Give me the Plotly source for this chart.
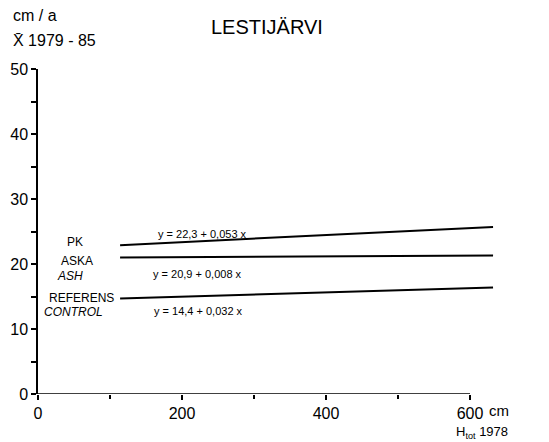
import plotly.graph_objects as go

# Data (x: H_tot 1978 in cm, y: cm/a mean 1979-85)
x_ends = [114, 632]
pk = [22.9, 25.7]
aska = [21.0, 21.3]
referens = [14.7, 16.4]

x_ticks = [0, 200, 400, 600]
x_tick_labels = ["0", "200", "400", "600"]
x_minor = [100, 300, 500]
y_ticks = [0, 10, 20, 30, 40, 50]
y_minor = [5, 15, 25, 35, 45]

W, H = 549, 442
L, R, T, B = 38, 50, 69, 48
PW, PH = W - L - R, H - T - B
XMAX = PW / 0.72
FONT = "Liberation Sans, Arial, Helvetica, sans-serif"

def px2p(px, py):
    return (px - L) / PW, (H - B - py) / PH

fig = go.Figure()
for ys in (pk, aska, referens):
    fig.add_trace(go.Scatter(x=x_ends, y=ys, mode="lines",
                             line=dict(color="black", width=2),
                             showlegend=False, hoverinfo="skip"))

# x-axis line only up to 600
fig.add_shape(type="line", x0=0, x1=600, y0=0, y1=0, xref="x", yref="y",
              line=dict(color="black", width=1.5), layer="above")

def ann(text, px, py, size, italic=False, xanchor="center"):
    x, y = px2p(px, py)
    if italic:
        text = "<i>" + text + "</i>"
    fig.add_annotation(x=x, y=y, xref="paper", yref="paper", text=text, showarrow=False,
                       xanchor=xanchor, yanchor="middle",
                       font=dict(family=FONT, size=size, color="black"))

ann("LESTIJÄRVI", 267, 27, 20)
ann("cm / a", 11, 16, 16, xanchor="left")
ann("X\u0304 1979 - 85", 11, 40, 16, xanchor="left")
ann("PK", 75, 242, 12)
ann("ASKA", 77, 261, 12)
ann("ASH", 70, 276, 12, italic=True)
ann("REFERENS", 81, 298, 12)
ann("CONTROL", 73, 312, 12, italic=True)
ann("y = 22,3 + 0,053 x", 202, 234, 11)
ann("y = 20,9 + 0,008 x", 197, 274, 11)
ann("y = 14,4 + 0,032 x", 198, 311, 11)
ann("cm", 499, 410, 15)
ann("H<sub>tot</sub> 1978", 482, 432, 13)

fig.update_xaxes(range=[0, XMAX], showline=False, showgrid=False, zeroline=False,
                 automargin=False,
                 tickmode="array", tickvals=x_ticks, ticktext=x_tick_labels,
                 ticks="outside", ticklen=5, tickwidth=1.5, tickcolor="black",
                 tickfont=dict(family=FONT, size=16, color="black"),
                 minor=dict(tickmode="array", tickvals=x_minor, ticks="outside",
                            ticklen=4, tickwidth=1.5, tickcolor="black", showgrid=False))
fig.update_yaxes(range=[0, 50], showline=True, linecolor="black", linewidth=1.5,
                 showgrid=False, zeroline=False, automargin=False,
                 tickmode="array", tickvals=y_ticks,
                 ticks="outside", ticklen=5, tickwidth=1.5, tickcolor="black",
                 tickfont=dict(family=FONT, size=16, color="black"),
                 minor=dict(tickmode="array", tickvals=y_minor, ticks="outside",
                            ticklen=5, tickwidth=1.5, tickcolor="black", showgrid=False))

fig.update_layout(width=W, height=H, margin=dict(l=L, r=R, t=T, b=B, autoexpand=False),
                  plot_bgcolor="white", paper_bgcolor="white",
                  font=dict(family=FONT, color="black"))

fig.write_html("out.html", config={"displayModeBar": False},
               post_script="document.body.style.margin='0';document.body.style.overflow='hidden';")
